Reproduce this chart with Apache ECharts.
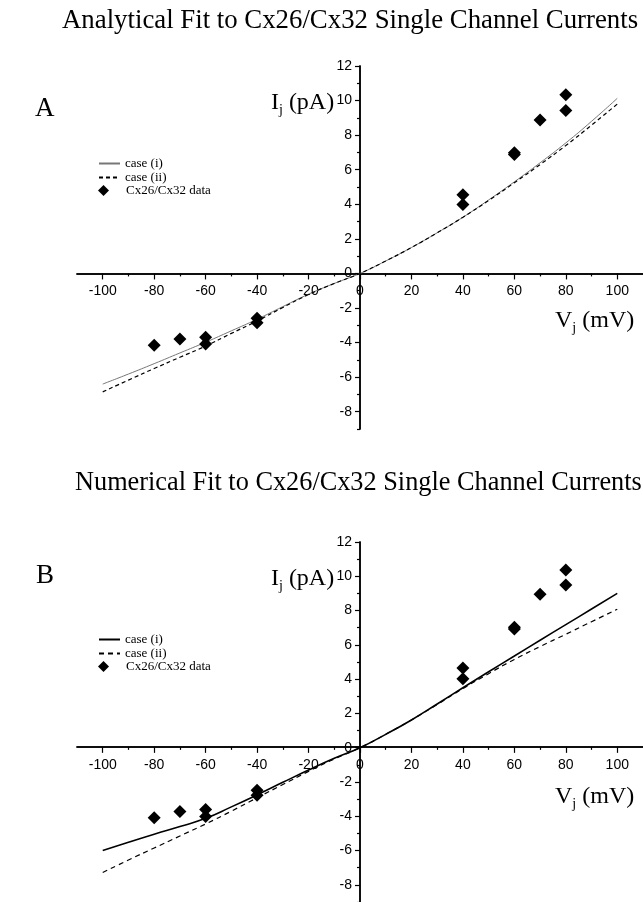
<!DOCTYPE html>
<html>
<head>
<meta charset="utf-8">
<script src="https://cdn.jsdelivr.net/npm/echarts@6/dist/echarts.min.js"></script>
<style>
html,body{margin:0;padding:0;background:#fff;}
#chart{width:643px;height:902px;}
</style>
</head>
<body>
<div id="chart"></div>
<script>
// ---- data ----
const volts = [-100,-90,-80,-70,-60,-50,-40,-30,-20,-10,0,10,20,30,40,50,60,70,80,90,100];
// Panel A (analytical fit)
const fitA_case1 = [-6.40,-5.82,-5.22,-4.60,-3.98,-3.32,-2.65,-1.92,-1.20,-0.58,0,0.72,1.50,2.35,3.25,4.25,5.30,6.40,7.55,8.80,10.13];
const fitA_case2 = [-6.85,-6.17,-5.50,-4.85,-4.20,-3.47,-2.75,-1.97,-1.22,-0.58,0,0.72,1.50,2.35,3.25,4.22,5.25,6.30,7.40,8.58,9.80];
// Panel B (numerical fit)
const fitB_case1 = [-6.00,-5.52,-5.05,-4.60,-4.12,-3.45,-2.75,-2.02,-1.30,-0.62,0,0.78,1.62,2.55,3.50,4.43,5.35,6.27,7.18,8.09,9.00];
const fitB_case2 = [-7.28,-6.55,-5.85,-5.15,-4.45,-3.70,-2.92,-2.15,-1.38,-0.66,0,0.78,1.62,2.52,3.45,4.32,5.15,5.90,6.62,7.35,8.08];
// Cx26/Cx32 measured points
const dataV = [-80,-70,-60,-60,-40,-40,40,40,60,60,70,80,80];
const dataA = [-4.15,-3.80,-3.69,-4.08,-2.59,-2.86,4.55,3.99,6.88,6.98,8.88,10.33,9.42];
const dataB = [-4.09,-3.72,-3.60,-4.01,-2.48,-2.77,4.65,4.03,6.93,7.02,8.95,10.37,9.49];
// ticks
const xMajorTicks = [-100,-80,-60,-40,-20,0,20,40,60,80,100];
const xMinorTicks = [-90,-70,-50,-30,-10,10,30,50,70,90];
const yMajorTicks = [-8,-6,-4,-2,0,2,4,6,8,10,12];
const yMinorTicks = [-9,-7,-5,-3,-1,1,3,5,7,9,11];
const xRange = [-110,110];
const yRange = [-9,12];
const titleA = 'Analytical Fit to Cx26/Cx32 Single Channel Currents';
const titleB = 'Numerical Fit to Cx26/Cx32 Single Channel Currents';
const legendNames = ['case (i)','case (ii)','Cx26/Cx32 data'];

const pairs = (xs, ys) => xs.map((x,i)=>[x, ys[i]]);
const SERIF = '"Liberation Serif","Times New Roman",serif';
const SANS = '"Liberation Sans",Arial,sans-serif';

const GRID_W = 566, GRID_H = [363, 362];
// axes cross at zero: shift them inward from the grid edge to the other axis' zero
const yAxisShift = -GRID_W * (0 - xRange[0]) / (xRange[1] - xRange[0]);
const xAxisShift = h => -h * (0 - yRange[0]) / (yRange[1] - yRange[0]);

function xAx(grid, major){
  return {
    type:'value', gridIndex:grid, min:xRange[0], max:xRange[1], position:'bottom',
    offset: xAxisShift(GRID_H[grid]),
    axisLine:{show:true, onZero:false, lineStyle:{color:'#000', width:1.5}},
    axisTick:{show:true, inside:false, length: major?6:3, customValues: major?xMajorTicks:xMinorTicks, lineStyle:{color:'#000', width:1.2}},
    axisLabel:{show:major, customValues:xMajorTicks, color:'#000', fontFamily:SANS, fontSize:14, margin:11},
    splitLine:{show:false}
  };
}
function yAx(grid, major){
  return {
    type:'value', gridIndex:grid, min:yRange[0], max:yRange[1], position:'left',
    offset: yAxisShift,
    axisLine:{show:true, onZero:false, lineStyle:{color:'#000', width:1.5}},
    axisTick:{show:true, inside:false, length: major?5:3, customValues: major?yMajorTicks:yMinorTicks, lineStyle:{color:'#000', width:1.2}},
    axisLabel:{show:major, customValues:yMajorTicks, color:'#000', fontFamily:SANS, fontSize:14, margin:8},
    splitLine:{show:false}
  };
}

const rich = {
  m:{fontFamily:SERIF, fontSize:24, color:'#000', lineHeight:28},
  s:{fontFamily:SERIF, fontSize:14, color:'#000', lineHeight:28, padding:[14,0,0,0]}
};
function ttl(text, left, top, size){
  return {text:text, left:left, top:top, padding:0,
    textStyle:{fontFamily:SERIF, fontSize:size, fontWeight:'normal', color:'#000', rich:rich}};
}
const lgdText = {fontFamily:SERIF, fontSize:13, color:'#000', lineHeight:12};
function lgdLines(prefix, top){
  return {left:98, top:top, orient:'vertical', itemWidth:21, itemHeight:10, itemGap:1, padding:0,
    data:[{name:prefix+legendNames[0], itemStyle:{opacity:0}},
          {name:prefix+legendNames[1], itemStyle:{opacity:0}}],
    formatter:n=>n.slice(2), textStyle:lgdText, selectedMode:false};
}
function lgdData(prefix, top){
  return {left:98, top:top, orient:'vertical', itemWidth:11, itemHeight:11, padding:0,
    data:[{name:prefix+legendNames[2], icon:'diamond'}],
    formatter:n=>n.slice(2), textStyle:Object.assign({padding:[0,0,0,12]}, lgdText), selectedMode:false};
}

const option = {
  backgroundColor:'#fff',
  animation:false,
  title:[
    ttl(titleA, 62, 7, 26.8),
    ttl('A', 35, 95, 27),
    ttl('{m|I}{s|j}{m| (pA)}', 271, 89, 24),
    ttl('{m|V}{s|j}{m| (mV)}', 555, 307, 24),
    ttl(titleB, 75, 470, 26.3),
    ttl('B', 36, 562, 27),
    ttl('{m|I}{s|j}{m| (pA)}', 271, 565, 24),
    ttl('{m|V}{s|j}{m| (mV)}', 555, 783, 24)
  ],
  legend:[lgdLines('A:', 157), lgdData('A:', 184), lgdLines('B:', 633), lgdData('B:', 660)],
  grid:[
    {left:77, width:GRID_W, top:66, height:GRID_H[0]},
    {left:77, width:GRID_W, top:542, height:GRID_H[1]}
  ],
  xAxis:[xAx(0,true), xAx(0,false), xAx(1,true), xAx(1,false)],
  yAxis:[yAx(0,true), yAx(0,false), yAx(1,true), yAx(1,false)],
  series:[
    {name:'A:'+legendNames[0], type:'line', xAxisIndex:0, yAxisIndex:0, smooth:true, showSymbol:false, symbol:'none',
     data:pairs(volts, fitA_case1), lineStyle:{color:'#777', width:1}, itemStyle:{color:'#777'}, z:3},
    {name:'A:'+legendNames[1], type:'line', xAxisIndex:0, yAxisIndex:0, smooth:true, showSymbol:false, symbol:'none',
     data:pairs(volts, fitA_case2), lineStyle:{color:'#000', width:1.2, type:[4,3]}, itemStyle:{color:'#000'}, z:3},
    {name:'A:'+legendNames[2], type:'scatter', xAxisIndex:0, yAxisIndex:0, symbol:'diamond', symbolSize:13,
     data:pairs(dataV, dataA), itemStyle:{color:'#000', opacity:1}, z:5},
    {name:'B:'+legendNames[0], type:'line', xAxisIndex:2, yAxisIndex:2, smooth:true, showSymbol:false, symbol:'none',
     data:pairs(volts, fitB_case1), lineStyle:{color:'#000', width:1.6}, itemStyle:{color:'#000'}, z:3},
    {name:'B:'+legendNames[1], type:'line', xAxisIndex:2, yAxisIndex:2, smooth:true, showSymbol:false, symbol:'none',
     data:pairs(volts, fitB_case2), lineStyle:{color:'#000', width:1.2, type:[5,4]}, itemStyle:{color:'#000'}, z:3},
    {name:'B:'+legendNames[2], type:'scatter', xAxisIndex:2, yAxisIndex:2, symbol:'diamond', symbolSize:13,
     data:pairs(dataV, dataB), itemStyle:{color:'#000', opacity:1}, z:5}
  ]
};
const chart = echarts.init(document.getElementById('chart'), null, {renderer:'canvas'});
chart.setOption(option);
</script>
</body>
</html>
